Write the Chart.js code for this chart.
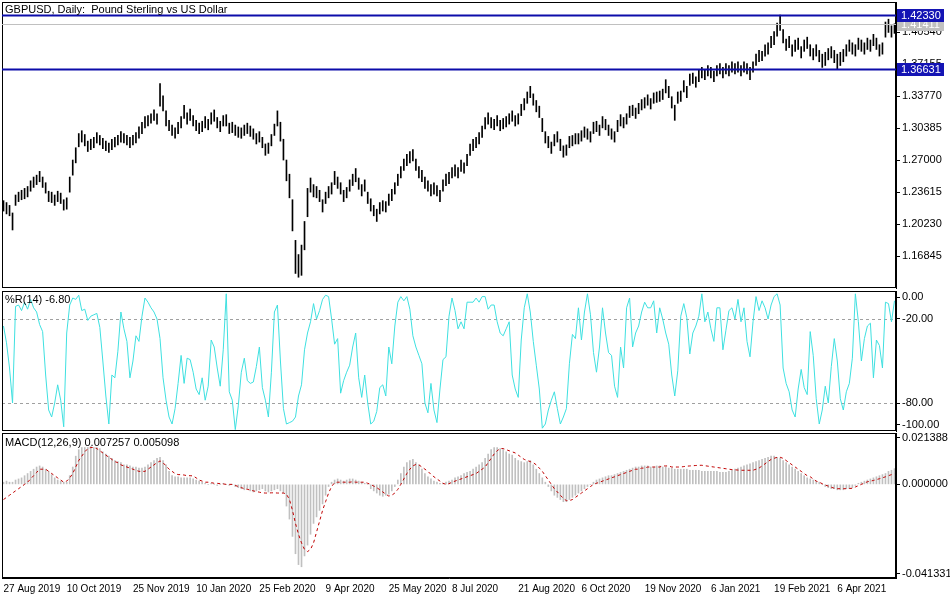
<!DOCTYPE html>
<html><head><meta charset="utf-8">
<script src="https://cdn.jsdelivr.net/npm/chart.js@4.4.0/dist/chart.umd.min.js"></script>
<style>
body{margin:0;background:#fff;width:950px;height:600px;overflow:hidden;position:relative;font-family:"Liberation Sans",Arial,sans-serif}
canvas{position:absolute;left:0}
.t{position:absolute;left:5px;font-size:11px;color:#000;white-space:pre;z-index:2}
</style></head><body>
<canvas id="c1" width="950" height="290" style="top:0"></canvas>
<canvas id="c2" width="950" height="152" style="top:280px"></canvas>
<canvas id="c3" width="950" height="168" style="top:432px"></canvas>
<div class="t" style="top:3px">GBPUSD, Daily:  Pound Sterling vs US Dollar</div>
<div class="t" style="top:293px">%R(14) -6.80</div>
<div class="t" style="top:436px">MACD(12,26,9) 0.007257 0.005098</div>
<script>
const highs=[1.227,1.225,1.222,1.214,1.233,1.236,1.238,1.240,1.242,1.248,
1.252,1.254,1.258,1.252,1.246,1.237,1.236,1.233,1.237,1.235,
1.228,1.230,1.252,1.270,1.283,1.298,1.301,1.297,1.290,1.292,
1.294,1.299,1.296,1.293,1.290,1.288,1.292,1.294,1.296,1.300,
1.298,1.296,1.294,1.296,1.299,1.305,1.310,1.316,1.317,1.319,
1.323,1.319,1.351,1.338,1.322,1.312,1.307,1.304,1.310,1.316,
1.328,1.320,1.324,1.317,1.312,1.309,1.311,1.316,1.313,1.320,
1.323,1.315,1.311,1.317,1.318,1.309,1.310,1.307,1.305,1.304,
1.307,1.309,1.306,1.303,1.298,1.300,1.294,1.287,1.288,1.297,
1.308,1.322,1.310,1.292,1.270,1.255,1.228,1.185,1.170,1.180,
1.205,1.240,1.251,1.244,1.242,1.238,1.228,1.236,1.242,1.246,
1.258,1.252,1.246,1.238,1.241,1.249,1.255,1.261,1.251,1.244,
1.249,1.236,1.229,1.222,1.218,1.225,1.227,1.226,1.234,1.239,
1.246,1.255,1.263,1.271,1.276,1.279,1.281,1.271,1.263,1.259,
1.252,1.248,1.244,1.246,1.243,1.238,1.249,1.255,1.257,1.262,
1.265,1.262,1.270,1.267,1.276,1.287,1.292,1.294,1.299,1.306,
1.315,1.320,1.315,1.313,1.317,1.312,1.314,1.316,1.319,1.322,
1.317,1.319,1.329,1.335,1.342,1.348,1.340,1.333,1.327,1.314,
1.300,1.295,1.289,1.297,1.300,1.292,1.285,1.286,1.295,1.296,
1.298,1.298,1.301,1.305,1.303,1.300,1.310,1.311,1.307,1.316,
1.313,1.307,1.303,1.300,1.312,1.318,1.315,1.319,1.327,1.328,
1.325,1.330,1.334,1.336,1.339,1.335,1.341,1.342,1.343,1.345,
1.355,1.348,1.337,1.328,1.342,1.343,1.354,1.348,1.361,1.362,
1.358,1.365,1.368,1.366,1.370,1.368,1.364,1.370,1.372,1.368,
1.372,1.370,1.374,1.372,1.374,1.370,1.374,1.372,1.368,1.374,
1.382,1.386,1.385,1.392,1.394,1.401,1.406,1.415,1.4233,1.408,
1.398,1.401,1.392,1.397,1.399,1.390,1.397,1.400,1.392,1.388,
1.392,1.386,1.382,1.384,1.388,1.390,1.386,1.382,1.384,1.387,
1.392,1.397,1.394,1.392,1.399,1.397,1.394,1.399,1.397,1.403,
1.399,1.392,1.394,1.416,1.419,1.412,1.4141];
const lows=[1.216,1.213,1.211,1.196,1.222,1.226,1.228,1.229,1.231,1.237,
1.241,1.244,1.247,1.241,1.235,1.226,1.225,1.222,1.226,1.224,
1.217,1.218,1.236,1.254,1.267,1.284,1.289,1.285,1.279,1.281,
1.283,1.288,1.286,1.282,1.280,1.278,1.281,1.284,1.286,1.289,
1.288,1.286,1.283,1.286,1.288,1.293,1.298,1.304,1.306,1.309,
1.312,1.308,1.327,1.322,1.306,1.301,1.296,1.293,1.298,1.304,
1.314,1.308,1.312,1.306,1.301,1.298,1.300,1.304,1.302,1.308,
1.311,1.304,1.300,1.306,1.306,1.298,1.299,1.296,1.294,1.293,
1.296,1.298,1.295,1.292,1.287,1.289,1.283,1.275,1.277,1.285,
1.296,1.306,1.290,1.270,1.248,1.230,1.195,1.150,1.146,1.148,
1.175,1.210,1.236,1.231,1.230,1.226,1.215,1.224,1.230,1.234,
1.244,1.240,1.234,1.226,1.230,1.237,1.243,1.247,1.239,1.232,
1.237,1.224,1.216,1.211,1.205,1.213,1.216,1.215,1.222,1.227,
1.234,1.243,1.251,1.259,1.264,1.267,1.269,1.259,1.251,1.247,
1.240,1.237,1.232,1.234,1.232,1.226,1.237,1.243,1.245,1.251,
1.253,1.251,1.258,1.256,1.264,1.275,1.280,1.283,1.287,1.294,
1.303,1.308,1.304,1.302,1.306,1.301,1.303,1.305,1.308,1.311,
1.306,1.308,1.317,1.323,1.330,1.336,1.328,1.321,1.315,1.300,
1.288,1.283,1.277,1.285,1.289,1.280,1.273,1.275,1.283,1.285,
1.287,1.287,1.290,1.294,1.292,1.289,1.298,1.300,1.296,1.304,
1.302,1.296,1.292,1.289,1.300,1.306,1.304,1.308,1.315,1.317,
1.314,1.319,1.323,1.325,1.328,1.324,1.330,1.331,1.332,1.334,
1.341,1.336,1.325,1.312,1.330,1.332,1.342,1.336,1.349,1.351,
1.347,1.353,1.357,1.355,1.359,1.357,1.353,1.359,1.361,1.357,
1.361,1.359,1.363,1.361,1.363,1.359,1.363,1.361,1.355,1.363,
1.370,1.374,1.375,1.380,1.382,1.389,1.392,1.401,1.407,1.394,
1.386,1.389,1.380,1.385,1.387,1.378,1.385,1.388,1.380,1.376,
1.380,1.374,1.368,1.370,1.376,1.378,1.373,1.3663,1.370,1.374,
1.380,1.385,1.382,1.380,1.387,1.385,1.382,1.387,1.385,1.391,
1.387,1.380,1.382,1.400,1.405,1.400,1.404];
const wpr=[-25,-37,-55,-80,-11,-10,-14,-8,-13,-6,
-12,-15,-24,-29,-60,-85,-90,-80,-67,-78,
-97,-30,-10,-5,-6,-3,-14,-13,-21,-18,
-17,-16,-26,-50,-75,-95,-60,-62,-43,-15,
-27,-36,-62,-50,-32,-36,-18,-5,-8,-12,
-15,-20,-34,-62,-78,-90,-95,-84,-66,-46,
-66,-48,-49,-58,-70,-74,-62,-78,-68,-35,
-40,-55,-68,-42,-2,-72,-78,-99,-82,-58,
-48,-64,-66,-65,-54,-40,-69,-78,-90,-58,
-15,-10,-50,-84,-95,-94,-93,-90,-75,-67,
-42,-30,-22,-9,-20,-14,-6,-3,-4,-20,
-38,-34,-73,-64,-58,-53,-40,-30,-62,-76,
-60,-80,-95,-93,-86,-69,-67,-75,-40,-52,
-25,-8,-4,-7,-4,-13,-32,-40,-46,-52,
-80,-87,-66,-85,-94,-70,-49,-47,-18,-5,
-14,-27,-22,-27,-8,-8,-8,-5,-8,-4,
-4,-13,-10,-10,-22,-30,-32,-27,-22,-60,
-70,-76,-35,-12,-2,-15,-36,-53,-70,-98,
-95,-85,-78,-72,-84,-95,-90,-84,-52,-31,
-34,-12,-35,-15,-2,-17,-44,-58,-40,-12,
-30,-44,-46,-68,-76,-40,-55,-12,-5,-40,
-30,-25,-15,-8,-12,-12,-7,-30,-12,-20,
-30,-38,-60,-75,-57,-18,-9,-19,-45,-30,
-25,-18,-2,-22,-15,-27,-36,-12,-12,-42,
-28,-14,-12,-20,-6,-22,-12,-36,-47,-22,
-4,-14,-7,-12,-20,-10,-4,-2,-10,-55,
-66,-72,-85,-90,-70,-56,-69,-74,-29,-46,
-77,-95,-85,-68,-80,-54,-34,-50,-77,-85,
-72,-66,-48,-2,-22,-50,-34,-25,-23,-62,
-35,-39,-55,-8,-9,-22,-7];
const macdMain=[0.0010,0.0015,0.0010,0.0010,0.0020,0.0025,0.0030,
0.0040,0.0050,0.0060,0.0070,0.0080,0.0085,0.0080,
0.0070,0.0060,0.0045,0.0030,0.0020,0.0015,0.0010,0.0010,
0.0040,0.0080,0.0130,0.0160,0.0170,0.0170,0.0170,0.0175,0.0170,0.0170,0.0165,
0.0150,0.0140,0.0130,0.0120,0.0110,0.0105,0.0100,0.0090,0.0090,0.0085,0.0080,0.0080,0.0075,0.0075,0.0080,
0.0090,0.0100,0.0110,0.0120,0.0125,0.0110,0.0090,
0.0060,0.0040,0.0035,0.0035,0.0030,0.0030,0.0030,0.0030,0.0025,0.0020,0.0015,0.0010,
0.0005,0,0.0005,0,-0.0005,0,0.0005,0,-0.0005,0,-0.0010,
-0.0015,-0.0020,-0.0025,-0.0020,-0.0030,-0.0035,-0.0030,-0.0025,-0.0020,-0.0030,-0.0035,-0.0030,-0.0025,-0.0020,-0.0030,-0.0040,
-0.0100,-0.0160,-0.0240,-0.0320,-0.0370,-0.0380,
-0.0330,-0.0280,-0.0230,-0.0180,-0.0150,-0.0120,-0.0090,-0.0050,-0.0010,
0.0010,0.0020,0.0025,0.0020,0.0015,0.0020,0.0025,0.0025,0.0020,0.0015,0.0010,0.0005,0,
-0.0020,-0.0030,-0.0040,-0.0050,-0.0055,-0.0050,-0.0045,-0.0030,-0.0010,
0.0020,0.0050,0.0080,0.0100,0.0110,0.0115,0.0100,0.0090,0.0070,
0.0050,0.0035,0.0025,0.0015,0.0010,0.0005,0.0005,0.0010,0.0015,
0.0020,0.0030,0.0035,0.0040,0.0050,0.0055,0.0060,0.0070,0.0080,0.0090,0.0100,
0.0120,0.0140,0.0160,0.0170,0.0170,0.0165,0.0160,
0.0150,0.0140,0.0135,0.0120,0.0110,0.0105,0.0100,0.0105,0.0110,
0.0090,0.0070,0.0050,0.0030,0.0010,-0.0010,-0.0030,
-0.0050,-0.0060,-0.0070,-0.0080,-0.0080,-0.0070,-0.0060,-0.0050,
-0.0040,-0.0030,-0.0020,-0.0010,0,0.0010,0.0020,0.0025,
0.0030,0.0035,0.0040,0.0040,0.0045,0.0050,0.0055,0.0060,
0.0065,0.0070,0.0075,0.0080,0.0080,0.0085,0.0085,0.0085,0.0080,0.0080,0.0085,0.0085,0.0080,0.0080,0.0075,0.0075,0.0070,0.0070,0.0070,
0.0070,0.0070,0.0065,0.0065,0.0065,0.0065,0.0060,0.0060,0.0060,0.0060,0.0060,0.0060,0.0055,0.0055,0.0055,0.0060,0.0065,0.0070,0.0075,0.0080,
0.0085,0.0090,0.0095,0.0100,0.0105,0.0110,0.0115,0.0120,0.0125,0.0130,0.0130,0.0125,0.0120,
0.0110,0.0100,0.0090,0.0080,0.0070,0.0060,0.0050,0.0040,0.0030,0.0025,0.0020,0.0015,0.0010,0,
-0.0010,-0.0015,-0.0020,-0.0020,-0.0025,-0.0025,-0.0025,-0.0020,-0.0020,-0.0015,-0.0005,
0.0005,0.0010,0.0015,0.0020,0.0025,0.0030,0.0035,0.0040,0.0045,0.0050,0.0060,0.0065,0.007257];
const macdSignal=[-0.0070,-0.0060,-0.0050,-0.0040,-0.0030,-0.0020,-0.0010,0,0.0010,0.0025,
0.0040,0.0055,0.0070,0.0070,0.0070,0.0060,0.0050,0.0040,0.0030,0.0020,
0.0010,0.0015,0.0030,0.0050,0.0080,0.0110,0.0130,0.0150,0.0165,0.0170,
0.0170,0.0165,0.0155,0.0145,0.0135,0.0125,0.0115,0.0105,0.0100,0.0090,
0.0085,0.0080,0.0075,0.0070,0.0065,0.0060,0.0060,0.0060,0.0070,0.0080,
0.0090,0.0100,0.0108,0.0100,0.0085,0.0070,0.0060,0.0050,0.0045,0.0045,
0.0043,0.0040,0.0040,0.0039,0.0030,0.0020,0.0015,0.0010,0.0010,0.0008,
0.0005,0.0005,0.0003,0.0002,0,0,0,-0.0005,-0.0010,-0.0015,
-0.0020,-0.0023,-0.0026,-0.0030,-0.0033,-0.0036,-0.0039,-0.0040,-0.0040,-0.0039,
-0.0039,-0.0040,-0.0040,-0.0040,-0.0045,-0.0070,-0.0120,-0.0180,-0.0230,-0.0270,
-0.0300,-0.0310,-0.0300,-0.0270,-0.0220,-0.0170,-0.0120,-0.0080,-0.0040,-0.0010,
0.0008,0.0010,0.0010,0.0010,0.0010,0.0010,0.0012,0.0010,0.0010,0.0010,
0.0010,0.0005,0,-0.0008,-0.0015,-0.0025,-0.0035,-0.0045,-0.0054,-0.0050,
-0.0040,-0.0023,0,0.0025,0.0050,0.0070,0.0085,0.0092,0.0090,0.0080,
0.0070,0.0060,0.0046,0.0035,0.0025,0.0015,0.0005,0,0.0003,
0.0010,0.0015,0.0020,0.0025,0.0030,0.0035,0.0040,0.0045,0.0050,0.0060,
0.0070,0.0080,0.0100,0.0120,0.0140,0.0155,0.0165,0.0165,0.0160,0.0155,
0.0150,0.0145,0.0135,0.0125,0.0115,0.0110,0.0105,0.0100,0.0090,0.0075,
0.0060,0.0040,0.0020,0,-0.0020,-0.0035,-0.0050,-0.0065,-0.0075,-0.0075,
-0.0070,-0.0060,-0.0050,-0.0040,-0.0030,-0.0020,-0.0010,0,0.0005,0.0010,
0.0015,0.0020,0.0025,0.0030,0.0035,0.0040,0.0045,0.0050,0.0055,0.0060,
0.0065,0.0070,0.0070,0.0075,0.0075,0.0080,0.0080,0.0080,0.0080,0.0080,
0.0085,0.0085,0.0085,0.0080,0.0080,0.0080,0.0080,0.0082,0.0084,0.0085,
0.0086,0.0087,0.0088,0.0088,0.0086,0.0084,0.0082,0.0080,0.0078,0.0076,
0.0074,0.0072,0.0070,0.0068,0.0067,0.0066,0.0065,0.0065,0.0065,0.0065,
0.0065,0.0070,0.0075,0.0085,0.0095,0.0105,0.0115,0.0120,0.0125,0.0125,
0.0120,0.0110,0.0100,0.0090,0.0080,0.0070,0.0060,0.0050,0.0040,0.0035,
0.0025,0.0015,0.0010,0.0003,-0.0003,-0.0008,-0.0013,-0.0018,-0.0020,-0.0020,
-0.0020,-0.0020,-0.0019,-0.0018,-0.0012,-0.0006,0,0.0006,0.0012,0.0015,
0.0018,0.0022,0.0026,0.0030,0.0035,0.0040,0.0045,0.005098];
const dateLabels=['27 Aug 2019','10 Oct 2019','25 Nov 2019','10 Jan 2020','25 Feb 2020','9 Apr 2020','25 May 2020','8 Jul 2020','21 Aug 2020','6 Oct 2020','19 Nov 2020','6 Jan 2021','19 Feb 2021','6 Apr 2021'];
const dateIdx=[0,21,43,64,85,107,128,149,171,192,213,235,256,277];
const priceTicks=[1.16845,1.20230,1.23615,1.27000,1.30385,1.33770,1.37155,1.40540];
// %R tick marks sit slightly inside the panel, as in the terminal
const wprTickPos=[-4.3,-20,-80,-95.5];
const wprTickText=['0.00','-20.00','-80.00','-100.00'];
const macdTicks=[0.021388,0,-0.041331];
const resistance=1.42330, support=1.36631, lastPrice=1.41411;

const N=highs.length;
const labels=[];for(let i=0;i<N;i++){const k=dateIdx.indexOf(i);labels.push(k>=0?dateLabels[k]:'');}
Chart.defaults.font.family='"Liberation Sans", Arial, sans-serif';
Chart.defaults.font.size=10;
Chart.defaults.color='#000';
Chart.defaults.animation=false;
Chart.defaults.devicePixelRatio=1;

const frame={id:'frame',afterDraw(c){const a=c.chartArea,x=c.ctx;x.save();x.strokeStyle='#000';x.lineWidth=1;x.strokeRect(a.left+0.5,a.top+0.5,a.right-a.left-1,a.bottom-a.top-1);x.restore();}};
function yAxis(min,max,ticks,fmt){return {position:'right',min,max,
 afterFit(s){s.width=54;s.paddingTop=0;s.paddingBottom=0},
 afterBuildTicks(s){s.ticks=ticks.map(v=>({value:v}))},
 ticks:{callback:(v,i)=>fmt(v,i),padding:2,font:{size:11}},
 grid:{drawOnChartArea:false,color:'#000',tickLength:4},border:{color:'#000'}};}
const xHidden={type:'category',offset:true,display:true,afterFit(s){s.height=0;s.paddingLeft=0;s.paddingRight=0},ticks:{display:false},grid:{display:false},border:{display:false}};
const common={responsive:false,maintainAspectRatio:false,plugins:{legend:{display:false},tooltip:{enabled:false}}};

new Chart(document.getElementById('c1'),{type:'bar',
 data:{labels,datasets:[{data:lows.map((l,i)=>[l,highs[i]]),backgroundColor:'#000',barThickness:1,borderWidth:0}]},
 options:Object.assign({},common,{layout:{autoPadding:false,padding:{top:2,bottom:2,left:2,right:0}},
  scales:{x:xHidden,y:yAxis(1.1346,1.4372,priceTicks,v=>Number(v).toFixed(5))}}),
 plugins:[frame,{id:'levels',afterDraw(c){const y=c.scales.y,a=c.chartArea,x=c.ctx;x.save();
  const ln=(v,col,w)=>{const p=Math.round(y.getPixelForValue(v));x.strokeStyle=col;x.lineWidth=w;x.beginPath();x.moveTo(a.left,p+0.5);x.lineTo(a.right,p+0.5);x.stroke();};
  const box=(v,bg)=>{const p=Math.round(y.getPixelForValue(v));x.fillStyle=bg;x.fillRect(a.right+1,p-6,47,13);x.fillStyle='#fff';x.font='11px "Liberation Sans"';x.textBaseline='middle';x.fillText(v.toFixed(5),a.right+5,p+1);};
  ln(lastPrice,'#c0c0c0',1);ln(resistance,'#0c0caa',2);ln(support,'#0c0caa',2);
  box(lastPrice,'#c0c0c0');box(resistance,'#1414b4');box(support,'#1414b4');x.restore();}}]});

new Chart(document.getElementById('c2'),{type:'line',
 data:{labels,datasets:[{data:wpr,borderColor:'#3fe0e0',borderWidth:1,pointRadius:0,tension:0}]},
 options:Object.assign({},common,{layout:{autoPadding:false,padding:{top:11,bottom:1,left:2,right:0}},
  scales:{x:xHidden,y:yAxis(-100,0,wprTickPos,(v,i)=>wprTickText[i])}}),
 plugins:[frame,{id:'dash',beforeDatasetsDraw(c){const y=c.scales.y,a=c.chartArea,x=c.ctx;x.save();x.strokeStyle='#a0a0a0';x.setLineDash([3,3]);x.lineWidth=1;
  [-20,-80].forEach(v=>{const p=Math.round(y.getPixelForValue(v))+0.5;x.beginPath();x.moveTo(a.left,p);x.lineTo(a.right,p);x.stroke();});x.restore();}}]});

new Chart(document.getElementById('c3'),{type:'bar',
 data:{labels,datasets:[
  {type:'line',data:macdSignal,borderColor:'#c00000',borderWidth:1,borderDash:[3,3],pointRadius:0,tension:0},
  {data:macdMain,backgroundColor:'#c0c0c0',barThickness:1,borderWidth:0}]},
 options:Object.assign({},common,{layout:{autoPadding:false,padding:{top:1,bottom:0,left:2,right:0}},
  scales:{x:{type:'category',offset:true,afterFit(s){s.height=22},
    grid:{drawOnChartArea:false,tickLength:4,color:c=>labels[c.index]?'#000':'rgba(0,0,0,0)'},border:{color:'#000'},
    ticks:{autoSkip:false,maxRotation:0,align:'start',padding:1,font:{size:10},callback:(v,i)=>labels[i]||null}},
   y:yAxis(-0.04318,0.02369,macdTicks,v=>Number(v).toFixed(6))}}),
 plugins:[frame]});
</script></body></html>
